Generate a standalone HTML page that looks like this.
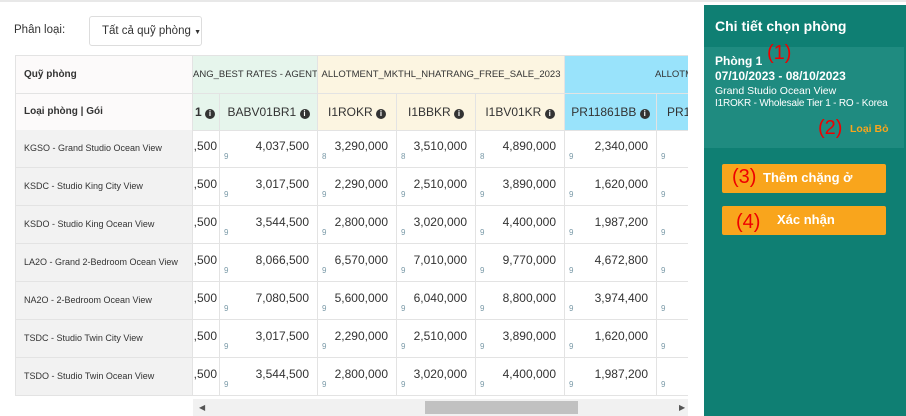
<!DOCTYPE html>
<html><head><meta charset="utf-8"><style>
*{box-sizing:border-box;margin:0;padding:0}
body{width:906px;height:416px;overflow:hidden;background:#fff;font-family:"Liberation Sans",Arial,sans-serif;position:relative;color:#333}
.a{position:absolute;white-space:nowrap}
.c{position:absolute;border-right:1px solid #e3e3e3;border-bottom:1px solid #e3e3e3;font-size:12px;white-space:nowrap;overflow:hidden}
.num{text-align:right;padding:9px 8px 0 0;font-size:12px;color:#333}
.s{position:absolute;left:4px;bottom:6px;font-size:8px;color:#7a9aa8}
.i{display:inline-block;width:10px;height:10px;border-radius:50%;background:#333;color:#fff;font-size:8px;line-height:10px;text-align:center;vertical-align:0px;font-weight:bold}
.h2{font-size:12px;text-align:center;line-height:37px}
.h1{font-size:9.5px;text-align:center;line-height:37px}
.btn{position:absolute;left:722px;width:164px;height:29px;background:#f9a51c;border-radius:2px;color:#fff;font-weight:bold;font-size:13px}
.red{color:#e00;font-size:20px;font-weight:normal}
</style></head><body>
<div class="a" style="left:0;top:0;width:906px;height:2px;background:#e8e8e8"></div>
<div class="a" style="left:14px;top:24px;font-size:11.5px;color:#333">Phân loại:</div>
<div class="a" style="left:89px;top:16px;width:113px;height:30px;border:1px solid #ddd;border-radius:3px;font-size:11.5px;line-height:28px;padding-left:12px">Tất cả quỹ phòng <span style="font-size:7px">▼</span></div>

<div class="a" style="left:15px;top:55px;width:673px;height:341px;overflow:hidden;border-top:1px solid #e3e3e3">
<div class="c" style="left:0;top:0;width:178px;height:38px;background:#fcfafa;border-left:1px solid #e3e3e3;font-weight:bold;font-size:10px;line-height:37px;padding-left:8px">Quỹ phòng</div>
<div class="c h1" style="left:178px;top:0;width:125px;height:38px;background:#e6f5ec;text-align:right;padding-right:8px">ANG_BEST RATES - AGENT</div>
<div class="c h1" style="left:303px;top:0;width:247px;height:38px;background:#fcf5e1">ALLOTMENT_MKTHL_NHATRANG_FREE_SALE_2023</div>
<div class="c h1" style="left:550px;top:0;width:200px;height:38px;background:#99e3fb;text-align:left;padding-left:90px">ALLOTMENT</div>
<div class="c" style="left:0;top:38px;width:178px;height:37px;background:#fcfafa;border-left:1px solid #e3e3e3;font-weight:bold;font-size:10px;line-height:36px;padding-left:8px">Loại phòng | Gói</div>
<div class="c h2" style="left:178px;top:38px;width:27px;height:37px;background:#e6f5ec;font-weight:bold;text-align:right;padding-right:4px">1 <span class="i">i</span></div>
<div class="c h2" style="left:205px;top:38px;width:98px;height:37px;background:#e6f5ec">BABV01BR1 <span class="i">i</span></div>
<div class="c h2" style="left:303px;top:38px;width:79px;height:37px;background:#fcf5e1">I1ROKR <span class="i">i</span></div>
<div class="c h2" style="left:382px;top:38px;width:79px;height:37px;background:#fcf5e1">I1BBKR <span class="i">i</span></div>
<div class="c h2" style="left:461px;top:38px;width:89px;height:37px;background:#fcf5e1">I1BV01KR <span class="i">i</span></div>
<div class="c h2" style="left:550px;top:38px;width:92px;height:37px;background:#99e3fb">PR11861BB <span class="i">i</span></div>
<div class="c h2" style="left:642px;top:38px;width:60px;height:37px;background:#99e3fb;text-align:left;padding-left:10px">PR11</div>
</div>
<div id="rows"></div>
<div class="a" style="left:193px;top:399px;width:495px;height:17px;background:#f1f1f1"></div>
<div class="a" style="left:425px;top:401px;width:153px;height:13px;background:#c1c1c1"></div>
<div class="a" style="left:199px;top:403px;font-size:8px;color:#555">◀</div>
<div class="a" style="left:679px;top:403px;font-size:8px;color:#555">▶</div>

<div class="a" style="left:704px;top:5px;width:202px;height:411px;background:#0f7f73"></div>
<div class="a" style="left:715px;top:18px;color:#fff;font-weight:bold;font-size:14px">Chi tiết chọn phòng</div>
<div class="a" style="left:704px;top:47px;width:200px;height:101px;background:#1f8b80"></div>
<div class="a" style="left:715px;top:54px;color:#fff;font-weight:bold;font-size:12px">Phòng 1</div>
<div class="a red" style="left:767px;top:42px">(1)</div>
<div class="a" style="left:715px;top:69px;color:#fff;font-weight:bold;font-size:12px">07/10/2023 - 08/10/2023</div>
<div class="a" style="left:715px;top:85px;color:#fff;font-size:10.5px">Grand Studio Ocean View</div>
<div class="a" style="left:715px;top:98px;color:#fff;font-size:10px;letter-spacing:-0.2px">I1ROKR - Wholesale Tier 1 - RO - Korea</div>
<div class="a red" style="left:818px;top:117px">(2)</div>
<div class="a" style="left:850px;top:123px;color:#f9a51c;font-weight:bold;font-size:10.5px">Loại Bỏ</div>
<div class="btn" style="top:164px"><span class="red" style="position:absolute;left:10px;top:2px">(3)</span><span style="position:absolute;left:41px;top:6px">Thêm chặng ở</span></div>
<div class="btn" style="top:206px"><span class="red" style="position:absolute;left:14px;top:5px">(4)</span><span style="position:absolute;left:55px;top:6px">Xác nhận</span></div>

<script>
var rows=[["KGSO - Grand Studio Ocean View","4,037,500","3,290,000","3,510,000","4,890,000","2,340,000",[9,8,8,8,9]],
["KSDC - Studio King City View","3,017,500","2,290,000","2,510,000","3,890,000","1,620,000",[9,9,9,9,9]],
["KSDO - Studio King Ocean View","3,544,500","2,800,000","3,020,000","4,400,000","1,987,200",[9,9,9,9,9]],
["LA2O - Grand 2-Bedroom Ocean View","8,066,500","6,570,000","7,010,000","9,770,000","4,672,800",[9,9,9,9,9]],
["NA2O - 2-Bedroom Ocean View","7,080,500","5,600,000","6,040,000","8,800,000","3,974,400",[9,9,9,9,9]],
["TSDC - Studio Twin City View","3,017,500","2,290,000","2,510,000","3,890,000","1,620,000",[9,9,9,9,9]],
["TSDO - Studio Twin Ocean View","3,544,500","2,800,000","3,020,000","4,400,000","1,987,200",[9,9,9,9,9]]];
var L=[178,205,303,382,461,550,642],W=[27,98,79,79,89,92,60];
var h='<div class="a" style="left:15px;top:130px;width:673px;height:266px;overflow:hidden">';
rows.forEach(function(r,k){var t=k*38;
h+='<div class="c" style="left:0;top:'+t+'px;width:178px;height:38px;background:#f2f2f2;border-left:1px solid #e3e3e3;font-size:9px;line-height:37px;padding-left:8px">'+r[0]+'</div>';
h+='<div class="c num" style="left:178px;top:'+t+'px;width:27px;height:38px;padding-right:2px">,500</div>';
for(var j=1;j<=5;j++)h+='<div class="c num" style="left:'+L[j]+'px;top:'+t+'px;width:'+W[j]+'px;height:38px">'+r[j]+'<span class="s">'+r[6][j-1]+'</span></div>';
h+='<div class="c num" style="left:642px;top:'+t+'px;width:60px;height:38px"><span class="s">9</span></div>';
});
document.getElementById('rows').outerHTML=h+'</div>';
</script>
</body></html>
